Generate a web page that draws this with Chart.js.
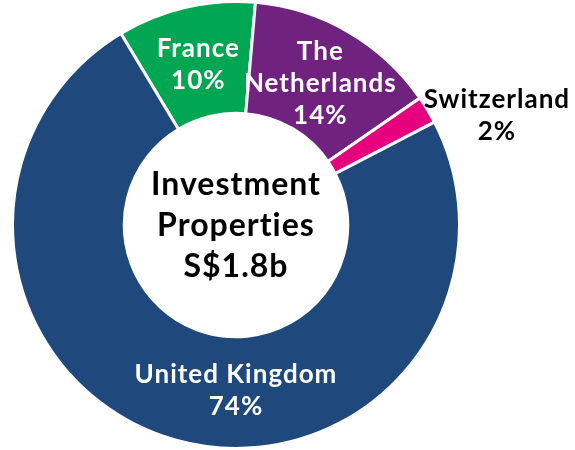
<!DOCTYPE html>
<html>
<head>
<meta charset="utf-8">
<script src="https://cdn.jsdelivr.net/npm/chart.js@4.4.1/dist/chart.umd.min.js"></script>
<style>
  html, body { margin: 0; padding: 0; background: #ffffff; }
  #wrap { width: 575px; height: 450px; position: relative; }
</style>
</head>
<body>
<div id="wrap"><canvas id="c" width="575" height="450"></canvas></div>
<script>
const categories = ['France', 'The Netherlands', 'Switzerland', 'United Kingdom'];
const labelLines = [['France', '10%'], ['The', 'Netherlands', '14%'], ['Switzerland', '2%'], ['United Kingdom', '74%']];
const shares = [10, 14, 2, 74];
const colors = ['#00A651', '#70227F', '#E6007E', '#1F497D'];
const centerLines = ['Investment', 'Properties', 'S$1.8b'];

const FONT = 'Lato, "Open Sans", sans-serif';

const labelPlugin = {
  id: 'sliceLabels',
  afterDatasetsDraw(chart) {
    const ctx = chart.ctx;
    const meta = chart.getDatasetMeta(0);
    ctx.save();
    ctx.textAlign = 'center';
    ctx.textBaseline = 'middle';
    ctx.letterSpacing = '1px';
    meta.data.forEach((arc, i) => {
      const p = arc.getProps(['x', 'y', 'startAngle', 'endAngle', 'innerRadius', 'outerRadius']);
      const mid = (p.startAngle + p.endAngle) / 2;
      let r = (p.innerRadius + p.outerRadius) / 2;
      let x, y, color = '#ffffff';
      if (i === 2) {
        r = p.outerRadius + 40;
        x = p.x + Math.cos(mid) * r + 35;
        y = p.y + Math.sin(mid) * r + 26;
        color = '#000000';
      } else if (i === 3) {
        x = p.x;
        y = p.y + r - 2;
      } else {
        x = p.x + Math.cos(mid) * r;
        y = p.y + Math.sin(mid) * r + 3;
      }
      const lines = labelLines[i];
      const lh = 32;
      ctx.fillStyle = color;
      ctx.font = 'bold 26px ' + FONT;
      lines.forEach((t, k) => {
        ctx.fillText(t, x, y + (k - (lines.length - 1) / 2) * lh);
      });
    });
    // center text
    const c = meta.data[0];
    ctx.fillStyle = '#000000';
    ctx.font = 'bold 32px ' + FONT;
    centerLines.forEach((t, k) => {
      ctx.fillText(t, c.x, c.y + (k - 1) * 41 + 1);
    });
    ctx.restore();
  }
};

new Chart(document.getElementById('c'), {
  type: 'doughnut',
  data: {
    labels: categories,
    datasets: [{
      data: shares,
      backgroundColor: colors,
      borderColor: '#ffffff',
      borderWidth: 3,
      hoverOffset: 0
    }]
  },
  options: {
    responsive: false,
    animation: false,
    cutout: '50%',
    rotation: -31,
    layout: { padding: { left: 11, right: 114, top: 0, bottom: 0 } },
    plugins: {
      legend: { display: false },
      tooltip: { enabled: false }
    }
  },
  plugins: [labelPlugin]
});
</script>
</body>
</html>
